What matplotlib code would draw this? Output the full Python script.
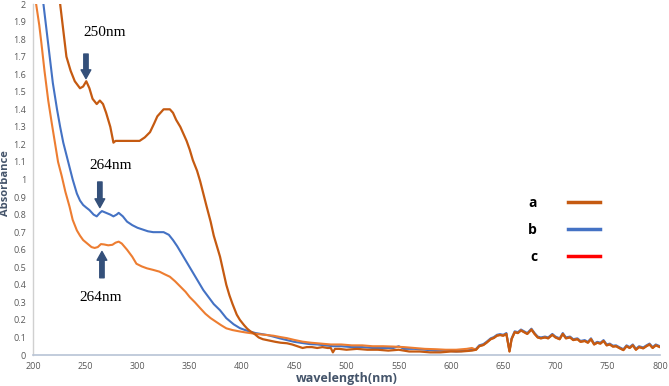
import matplotlib
matplotlib.use("Agg")
import matplotlib.pyplot as plt
from matplotlib.lines import Line2D

# ---- data ----
a_nm = [220, 226, 229, 232, 236, 240, 245, 248, 251, 254, 257, 261, 264, 267, 270, 274, 277, 279,
        285, 295, 302, 307, 312, 316, 319, 322, 325, 328, 331, 334, 337, 341, 344, 347, 350, 353,
        357, 360, 363, 366, 370, 373, 376, 379, 382, 385, 388, 391, 395, 398, 402, 405, 408, 412,
        416, 420, 424, 428, 432, 437, 443, 448, 453, 458, 462, 467, 472, 477, 482, 485, 487, 489,
        493, 500, 510, 520, 530, 540, 550, 560, 570, 580, 590, 600, 610, 620]
a_abs = [2.25, 2.0, 1.85, 1.70, 1.62, 1.56, 1.52, 1.53, 1.56, 1.52, 1.46, 1.43, 1.45, 1.43, 1.38,
         1.30, 1.21, 1.22, 1.22, 1.22, 1.22, 1.24, 1.27, 1.32, 1.36, 1.38, 1.40, 1.40, 1.40, 1.38,
         1.34, 1.30, 1.26, 1.22, 1.17, 1.11, 1.05, 0.99, 0.92, 0.85, 0.76, 0.68, 0.62, 0.56, 0.48,
         0.40, 0.34, 0.29, 0.23, 0.20, 0.17, 0.15, 0.135, 0.12, 0.10, 0.09, 0.085, 0.08, 0.075,
         0.07, 0.067, 0.06, 0.05, 0.04, 0.045, 0.045, 0.04, 0.045, 0.04, 0.04, 0.015, 0.035, 0.035,
         0.03, 0.035, 0.03, 0.03, 0.025, 0.03, 0.02, 0.02, 0.015, 0.015, 0.02, 0.02, 0.025]

b_nm = [205, 210, 213, 216, 219, 223, 226, 229, 232, 235, 238, 242, 245, 248, 251, 254, 258, 261,
        264, 266, 270, 274, 277, 280, 282, 286, 290, 295, 300, 305, 310, 315, 320, 325, 330, 334,
        338, 341, 344, 348, 353, 358, 363, 368, 373, 379, 385, 392, 398, 404, 408, 413, 418, 424,
        430, 436, 443, 450, 458, 465, 472, 480, 487, 495, 505, 515, 525, 535, 545, 550, 555, 565,
        575, 585, 595, 605, 615, 620]
b_abs = [2.3, 2.0, 1.85, 1.70, 1.55, 1.40, 1.30, 1.21, 1.14, 1.07, 1.00, 0.92, 0.88, 0.855, 0.84,
         0.826, 0.80, 0.79, 0.81, 0.82, 0.81, 0.80, 0.79, 0.80, 0.81, 0.79, 0.76, 0.74, 0.725,
         0.715, 0.705, 0.70, 0.70, 0.70, 0.685, 0.655, 0.62, 0.59, 0.56, 0.52, 0.47, 0.42, 0.37,
         0.33, 0.29, 0.255, 0.21, 0.175, 0.153, 0.14, 0.133, 0.125, 0.12, 0.114, 0.105, 0.095,
         0.085, 0.075, 0.068, 0.062, 0.06, 0.055, 0.05, 0.05, 0.045, 0.045, 0.04, 0.04, 0.04,
         0.05, 0.035, 0.035, 0.03, 0.025, 0.025, 0.02, 0.025, 0.03]

c_nm = [200, 203, 206, 208, 211, 214.6, 218, 221, 224, 227.5, 231, 235, 238, 242, 245, 248, 252,
        256, 259, 262, 265, 268, 272, 276, 279, 282, 285, 290, 295, 299, 304, 309, 315, 321, 326,
        331, 336, 341, 346, 350, 355, 360, 365, 370, 375, 380, 385, 391, 398, 404, 410, 417, 424,
        430, 437, 443, 450, 458, 466, 475, 485, 495, 505, 515, 525, 535, 545, 555, 565, 575, 585,
        595, 605, 615, 620]
c_abs = [2.1, 2.0, 1.88, 1.78, 1.62, 1.45, 1.32, 1.21, 1.10, 1.02, 0.93, 0.845, 0.77, 0.71, 0.68,
         0.655, 0.635, 0.615, 0.61, 0.615, 0.632, 0.63, 0.625, 0.628, 0.64, 0.646, 0.635, 0.60,
         0.56, 0.52, 0.505, 0.494, 0.485, 0.475, 0.46, 0.446, 0.42, 0.39, 0.36, 0.33, 0.30, 0.267,
         0.235, 0.21, 0.19, 0.17, 0.152, 0.142, 0.134, 0.128, 0.123, 0.118, 0.114, 0.11, 0.102,
         0.096, 0.086, 0.076, 0.07, 0.065, 0.06, 0.06, 0.055, 0.055, 0.05, 0.05, 0.048, 0.045,
         0.04, 0.035, 0.033, 0.03, 0.03, 0.035, 0.04]

# shared noisy region 624-800 nm (curves overlap there)
tail_nm = [624, 627, 631, 634, 638, 641, 644, 647, 650, 653, 656, 658, 661, 664, 667, 670, 673,
           677, 680, 683, 686, 690, 693, 697, 700, 704, 707, 710, 714, 717, 721, 724, 728, 731,
           734, 737, 740, 743, 746, 749, 752, 755, 758, 761, 765, 768, 771, 774, 777, 780, 784,
           787, 790, 793, 796, 800]
tail_abs = [0.03, 0.05, 0.057, 0.07, 0.09, 0.097, 0.11, 0.114, 0.11, 0.12, 0.02, 0.09, 0.13,
            0.125, 0.14, 0.13, 0.12, 0.145, 0.12, 0.10, 0.095, 0.10, 0.095, 0.115, 0.10, 0.09,
            0.12, 0.095, 0.10, 0.085, 0.09, 0.075, 0.08, 0.07, 0.09, 0.06, 0.07, 0.065, 0.08,
            0.055, 0.06, 0.048, 0.05, 0.04, 0.028, 0.05, 0.04, 0.055, 0.03, 0.045, 0.038, 0.05,
            0.06, 0.04, 0.055, 0.045]
b_tail_offset = [0.005] * len(tail_nm)

labels = ["a", "b", "c"]
colors = ["#C55A11", "#4472C4", "#ED7D31"]
legend_colors = ["#C55A11", "#4472C4", "#FF0000"]
x_ticks = list(range(200, 801, 50))
y_ticks = [i / 10 for i in range(0, 21)]
y_tick_labels = [f"{v:g}" for v in y_ticks]

# ---- figure ----
fig = plt.figure(figsize=(6.69, 3.86), dpi=100)
ax = fig.add_axes([0.0493, 0.0803, 0.9372, 0.9093])

bx = b_nm + tail_nm
by = b_abs + [v + o for v, o in zip(tail_abs, b_tail_offset)]
cx = c_nm + tail_nm
cy = c_abs + tail_abs
axx = a_nm + tail_nm
ayy = a_abs + tail_abs

ax.plot(bx, by, color=colors[1], lw=1.5, solid_joinstyle="round")
ax.plot(cx, cy, color=colors[2], lw=1.5, solid_joinstyle="round")
ax.plot(axx, ayy, color=colors[0], lw=1.6, solid_joinstyle="round")

ax.set_xlim(200, 800)
ax.set_ylim(0, 2)
ax.set_xticks(x_ticks)
ax.set_yticks(y_ticks)
ax.set_yticklabels(y_tick_labels)
ax.tick_params(length=0, labelsize=6.5, colors="#595959", pad=5)
for lab in ax.get_xticklabels() + ax.get_yticklabels():
    lab.set_family("Open Sans")

for s in ["top", "right"]:
    ax.spines[s].set_visible(False)
ax.spines["left"].set_color("#D0D0D0")
ax.spines["bottom"].set_color("#B8C4D6")
ax.spines["left"].set_linewidth(1.0)
ax.spines["bottom"].set_linewidth(1.2)

ax.set_xlabel("wavelength(nm)", fontsize=9, fontweight="bold", color="#44546A",
              family="Open Sans", labelpad=1)
ax.set_ylabel("Absorbance", fontsize=8, fontweight="bold", color="#44546A",
              family="Open Sans")
ax.yaxis.set_label_coords(-0.035, 0.49)

# annotations
arrow_color = "#34507A"
aprops = dict(arrowstyle="simple,head_length=0.9,head_width=1.0,tail_width=0.45",
              color=arrow_color, mutation_scale=7, shrinkA=0, shrinkB=0)
ax.annotate("", xy=(250.7, 1.575), xytext=(250.7, 1.715), arrowprops=aprops)
ax.annotate("", xy=(264, 0.84), xytext=(264, 0.986), arrowprops=aprops)
ax.annotate("", xy=(266, 0.59), xytext=(266, 0.44), arrowprops=aprops)

tfont = dict(family="Liberation Serif", fontsize=11, color="black", ha="center", va="center")
ax.text(269, 1.835, "250nm", **tfont)
ax.text(274, 1.079, "264nm", **tfont)
ax.text(264.6, 0.33, "264nm", **tfont)

handles = [Line2D([0], [0], color=c, lw=2.5) for c in legend_colors]
leg = ax.legend(handles, labels, markerfirst=False, frameon=False,
                loc="upper left", bbox_to_anchor=(0.77, 0.49),
                prop=dict(family="Open Sans", weight="bold", size=10),
                handlelength=2.3, handletextpad=2.2, labelspacing=0.95)

fig.savefig("out.png", dpi=100)
